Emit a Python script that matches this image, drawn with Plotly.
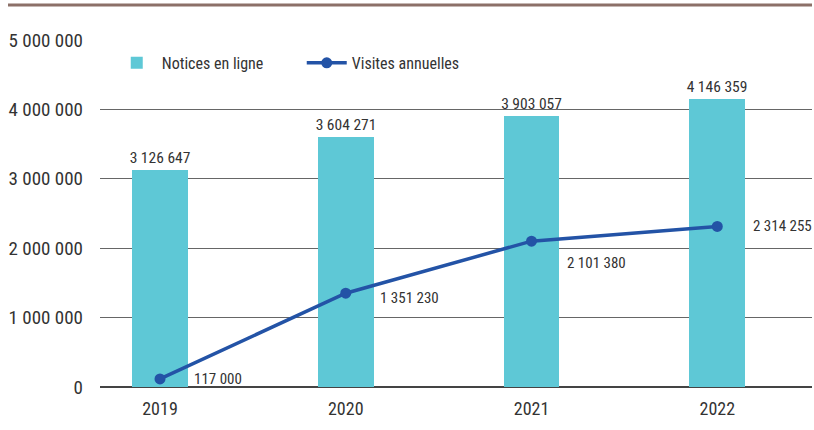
import plotly.graph_objects as go

years = ['2019', '2020', '2021', '2022']
notices = [3126647, 3604271, 3903057, 4146359]
visites = [117000, 1351230, 2101380, 2314255]
y_ticks = [0, 1000000, 2000000, 3000000, 4000000, 5000000]

FONT = 'Roboto Condensed, Roboto, sans-serif'
TXT = '#333333'


def fmt(v):
    return f'{v:,}'.replace(',', ' ')


fig = go.Figure()

fig.add_trace(go.Bar(
    x=years, y=notices, name='Notices en ligne',
    marker=dict(color='#5ec8d6', line=dict(width=0)),
    width=0.30,
    text=[fmt(v) for v in notices], textposition='outside',
    constraintext='none',
    textfont=dict(family=FONT, size=15.5, color=TXT),
    cliponaxis=False,
))

fig.add_trace(go.Scatter(
    x=years, y=visites, name='Visites annuelles',
    mode='lines+markers',
    line=dict(color='#2353a6', width=3.5),
    marker=dict(color='#2353a6', size=11),
))

# labels for the line, right of each point (x = category index)
shifts = [(32, 0), (32, -5), (33, -22), (34, 0)]
for i, (v, (dx, dy)) in enumerate(zip(visites, shifts)):
    fig.add_annotation(x=i, y=v, text=fmt(v), showarrow=False,
                       xanchor='left', yanchor='middle', xshift=dx, yshift=dy,
                       font=dict(family=FONT, size=15, color=TXT))

# brown rule at the top
fig.add_shape(type='line', xref='paper', yref='paper',
              x0=-0.1292, x1=1, y0=1.1009, y1=1.1009,
              line=dict(color='#8c7068', width=3))

fig.update_layout(
    width=814, height=430,
    margin=dict(l=100, r=2, t=40, b=43),
    paper_bgcolor='white', plot_bgcolor='white',
    font=dict(family=FONT, size=16, color=TXT),
    showlegend=True,
    legend=dict(orientation='h', x=0.0165, y=0.934, xanchor='left', yanchor='middle',
                font=dict(family=FONT, size=16, color=TXT),
                itemwidth=40, entrywidthmode='pixels', entrywidth=135,
                bgcolor='rgba(0,0,0,0)'),
    bargap=0,
)

fig.update_xaxes(type='category', range=[-0.323, 3.51], showgrid=False,
                 showline=False, ticks='', ticklabelstandoff=9,
                 tickfont=dict(family=FONT, size=18, color=TXT))
fig.update_yaxes(range=[0, 5000000], tickvals=y_ticks, ticktext=[fmt(v) for v in y_ticks],
                 showgrid=True, gridcolor='#666666', gridwidth=1,
                 zeroline=True, zerolinecolor='#444444', zerolinewidth=1.5,
                 ticks='', ticklabelstandoff=16,
                 tickfont=dict(family=FONT, size=19, color=TXT))

fig.write_html('out.html', config={'displayModeBar': False},
               post_script="document.body.style.margin='0';")
